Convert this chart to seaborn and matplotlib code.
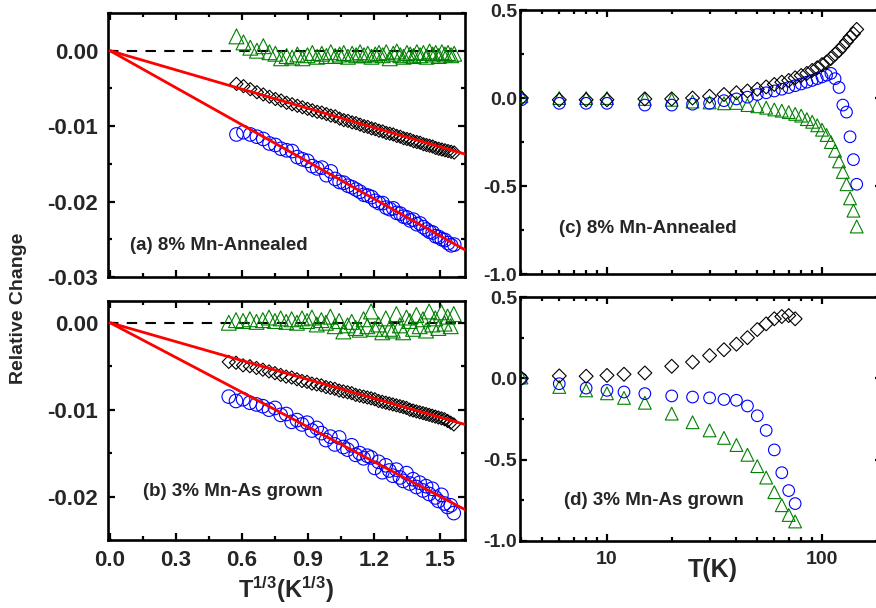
import seaborn as sns
import matplotlib.pyplot as plt
from matplotlib.ticker import MultipleLocator, LogLocator, NullFormatter, FormatStrFormatter

# ---- datos panel (a): 8% Mn-Annealed, eje T^(1/3)
xa = [0.575, 0.607, 0.638, 0.668, 0.697, 0.725, 0.752, 0.778, 0.803, 0.828, 0.852, 0.875,
      0.898, 0.920, 0.942, 0.963, 0.984, 1.004, 1.024, 1.044, 1.063, 1.082, 1.101, 1.119,
      1.137, 1.155, 1.172, 1.189, 1.206, 1.223, 1.240, 1.256, 1.272, 1.288, 1.304, 1.320,
      1.335, 1.350, 1.365, 1.380, 1.395, 1.410, 1.425, 1.439, 1.453, 1.467, 1.481, 1.495,
      1.509, 1.523, 1.537, 1.551, 1.565]
ya_diamante = [-0.0044, -0.0047, -0.0051, -0.0055, -0.0058, -0.0061, -0.0064, -0.0066, -0.0069,
               -0.0071, -0.0073, -0.0075, -0.0077, -0.0079, -0.0081, -0.0082, -0.0084, -0.0086,
               -0.0087, -0.0090, -0.0092, -0.0093, -0.0095, -0.0096, -0.0098, -0.0100, -0.0101,
               -0.0103, -0.0104, -0.0106, -0.0107, -0.0109, -0.0110, -0.0111, -0.0113, -0.0114,
               -0.0116, -0.0117, -0.0118, -0.0120, -0.0121, -0.0122, -0.0124, -0.0125, -0.0126,
               -0.0127, -0.0129, -0.0130, -0.0131, -0.0132, -0.0133, -0.0134, -0.0135]
ya_circulo = [-0.0111, -0.0108, -0.0111, -0.0114, -0.0117, -0.0123, -0.0125, -0.0130, -0.0132,
              -0.0133, -0.0141, -0.0144, -0.0146, -0.0153, -0.0156, -0.0155, -0.0165, -0.0160,
              -0.0170, -0.0174, -0.0175, -0.0179, -0.0181, -0.0184, -0.0187, -0.0191, -0.0192,
              -0.0194, -0.0199, -0.0202, -0.0202, -0.0208, -0.0210, -0.0209, -0.0215, -0.0216,
              -0.0220, -0.0221, -0.0225, -0.0224, -0.0230, -0.0229, -0.0234, -0.0237, -0.0240,
              -0.0241, -0.0246, -0.0247, -0.0250, -0.0251, -0.0255, -0.0258, -0.0257]
ya_triangulo = [0.0019, 0.0011, 0.0004, 0.0000, 0.0006, -0.0002, -0.0004, -0.0010, -0.0007,
                -0.0009, -0.0005, -0.0010, -0.0006, -0.0003, -0.0008, -0.0004, -0.0007, -0.0002,
                -0.0007, -0.0005, -0.0003, -0.0008, -0.0004, -0.0006, -0.0002, -0.0006, -0.0004,
                -0.0008, -0.0005, -0.0003, -0.0006, -0.0002, -0.0010, -0.0004, -0.0001, -0.0006,
                -0.0008, -0.0003, -0.0005, -0.0007, -0.0002, -0.0006, -0.0003, -0.0008, -0.0001,
                -0.0005, -0.0003, -0.0007, -0.0002, -0.0005, -0.0003, -0.0006, -0.0004]

# ---- datos panel (b): 3% Mn-As grown
xb = [0.540, 0.573, 0.605, 0.636, 0.666, 0.695, 0.723, 0.750, 0.776, 0.801, 0.826, 0.850,
      0.873, 0.896, 0.918, 0.940, 0.961, 0.982, 1.002, 1.022, 1.042, 1.061, 1.080, 1.099,
      1.117, 1.135, 1.153, 1.170, 1.187, 1.204, 1.221, 1.238, 1.254, 1.270, 1.286, 1.302,
      1.318, 1.333, 1.348, 1.363, 1.378, 1.393, 1.408, 1.423, 1.437, 1.451, 1.465, 1.479,
      1.493, 1.507, 1.521, 1.535, 1.549, 1.563]
yb_diamante = [-0.0045, -0.0046, -0.0049, -0.0050, -0.0052, -0.0054, -0.0056, -0.0058, -0.0060,
               -0.0062, -0.0063, -0.0065, -0.0067, -0.0068, -0.0070, -0.0071, -0.0072, -0.0074,
               -0.0075, -0.0076, -0.0078, -0.0079, -0.0080, -0.0081, -0.0083, -0.0084, -0.0085,
               -0.0086, -0.0087, -0.0088, -0.0090, -0.0091, -0.0092, -0.0093, -0.0094, -0.0095,
               -0.0096, -0.0097, -0.0098, -0.0100, -0.0101, -0.0102, -0.0103, -0.0104, -0.0105,
               -0.0106, -0.0107, -0.0108, -0.0109, -0.0110, -0.0111, -0.0113, -0.0115, -0.0117]
yb_circulo = [-0.0085, -0.0090, -0.0088, -0.0092, -0.0094, -0.0096, -0.0100, -0.0098, -0.0106,
              -0.0105, -0.0114, -0.0112, -0.0117, -0.0115, -0.0124, -0.0121, -0.0127, -0.0135,
              -0.0131, -0.0140, -0.0132, -0.0143, -0.0146, -0.0141, -0.0152, -0.0150, -0.0156,
              -0.0153, -0.0155, -0.0167, -0.0160, -0.0172, -0.0164, -0.0170, -0.0176, -0.0169,
              -0.0178, -0.0182, -0.0173, -0.0185, -0.0180, -0.0189, -0.0184, -0.0193, -0.0188,
              -0.0197, -0.0191, -0.0201, -0.0205, -0.0198, -0.0208, -0.0212, -0.0210, -0.0219]
yb_triangulo = [0.0000, 0.0003, 0.0002, 0.0004, 0.0001, 0.0003, 0.0006, 0.0002, 0.0005, 0.0001,
                0.0004, 0.0000, 0.0005, 0.0002, 0.0006, -0.0002, 0.0003, 0.0000, 0.0007, -0.0004,
                0.0002, -0.0010, -0.0003, 0.0001, -0.0006, -0.0008, 0.0004, -0.0004, 0.0013,
                -0.0007, -0.0002, -0.0011, 0.0005, -0.0007, -0.0009, 0.0010, -0.0003, -0.0011,
                0.0006, 0.0002, -0.0007, 0.0009, -0.0004, 0.0004, -0.0009, 0.0013, -0.0002,
                0.0005, -0.0006, 0.0012, -0.0001, 0.0007, -0.0004, 0.0010]

# ---- rectas de ajuste (extremos)
ajuste_x = [0.0, 1.614]
ajuste_a_diamante = [0.0, -0.0137]
ajuste_a_circulo = [0.0, -0.0264]
ajuste_b_diamante = [0.0, -0.0117]
ajuste_b_circulo = [0.0, -0.0215]

# ---- datos panel (c): T en K
tc = [4, 6, 8, 10, 15, 20, 25, 30, 35, 40, 45, 50, 55, 60, 65, 70, 75, 80, 85, 90, 95,
      100, 105, 110, 115, 120, 125, 130, 135, 140, 145]
yc_diamante = [0.0, -0.01, -0.01, -0.01, -0.005, -0.005, 0.0, 0.01, 0.02, 0.03, 0.04, 0.05,
               0.063, 0.077, 0.09, 0.10, 0.115, 0.128, 0.14, 0.157, 0.172, 0.19, 0.205, 0.225,
               0.25, 0.27, 0.295, 0.32, 0.345, 0.365, 0.39]
yc_circulo = [-0.01, -0.03, -0.03, -0.03, -0.04, -0.04, -0.035, -0.03, -0.015, -0.005, 0.005,
              0.02, 0.03, 0.04, 0.05, 0.06, 0.07, 0.08, 0.09, 0.10, 0.11, 0.12, 0.13, 0.14,
              0.11, 0.06, -0.04, -0.08, -0.22, -0.35, -0.49]
yc_triangulo = [0.01, 0.0, 0.0, 0.0, -0.005, -0.01, -0.02, -0.025, -0.03, -0.028, -0.04, -0.047,
                -0.055, -0.065, -0.072, -0.08, -0.09, -0.10, -0.12, -0.135, -0.155, -0.18, -0.21,
                -0.25, -0.30, -0.36, -0.42, -0.49, -0.57, -0.64, -0.73]

# ---- datos panel (d)
td = [4, 6, 8, 10, 12, 15, 20, 25, 30, 35, 40, 45, 50, 55, 60, 65, 70, 75]
yd_diamante = [0.0, 0.015, 0.013, 0.018, 0.025, 0.033, 0.074, 0.10, 0.14, 0.176, 0.21, 0.25,
               0.30, 0.335, 0.366, 0.38, 0.386, 0.366]
yd_circulo = [-0.002, -0.033, -0.06, -0.074, -0.084, -0.094, -0.108, -0.115, -0.12, -0.13,
              -0.135, -0.17, -0.23, -0.32, -0.44, -0.58, -0.69, -0.77]
yd_triangulo = [0.005, -0.053, -0.074, -0.092, -0.12, -0.15, -0.217, -0.27, -0.32, -0.366,
                -0.41, -0.47, -0.54, -0.61, -0.70, -0.78, -0.84, -0.88]

sns.set_style("ticks")
plt.rcParams['font.family'] = ['Liberation Sans', 'DejaVu Sans']
plt.rcParams['font.weight'] = 'bold'
plt.rcParams['axes.unicode_minus'] = False
plt.rcParams['mathtext.fontset'] = 'custom'
plt.rcParams['mathtext.bf'] = 'Liberation Sans:bold'
plt.rcParams['mathtext.rm'] = 'Liberation Sans:bold'
plt.rcParams['mathtext.default'] = 'bf'

AZUL = '#0000ff'
VERDE = '#008000'

fig = plt.figure(figsize=(8.76, 6.08), dpi=100)
ax_a = fig.add_axes([0.1233, 0.5444, 0.4075, 0.4342])
ax_b = fig.add_axes([0.1233, 0.1118, 0.4075, 0.3931])
ax_c = fig.add_axes([0.5936, 0.5493, 0.4132, 0.4342])
ax_d = fig.add_axes([0.5936, 0.1102, 0.4132, 0.4013])


def estilo(ax, tam_letra):
    for sp in ax.spines.values():
        sp.set_linewidth(1.9)
        sp.set_color('black')
    ax.tick_params(which='both', direction='in', top=True, right=True, width=1.6,
                   labelsize=tam_letra, color='black')
    ax.tick_params(which='major', length=5)
    ax.tick_params(which='minor', length=3)
    for lab in ax.get_xticklabels() + ax.get_yticklabels():
        lab.set_fontweight('bold')


def puntos(ax, x, y, marca, color, tam):
    sns.scatterplot(x=x, y=y, ax=ax, marker=marca, s=tam, facecolors='none',
                    edgecolor=color, linewidth=0.8, zorder=3)


# paneles izquierdos
for ax, x, yd, yc, yt, ad, ac in [
        (ax_a, xa, ya_diamante, ya_circulo, ya_triangulo, ajuste_a_diamante, ajuste_a_circulo),
        (ax_b, xb, yb_diamante, yb_circulo, yb_triangulo, ajuste_b_diamante, ajuste_b_circulo)]:
    ax.axhline(0, color='black', ls=(0, (5, 4)), lw=1.5, zorder=1)
    puntos(ax, x, yt, '^', VERDE, 115)
    puntos(ax, x, yd, 'D', 'black', 45)
    puntos(ax, x, yc, 'o', AZUL, 95)
    sns.lineplot(x=ajuste_x, y=ad, ax=ax, color='red', lw=2, zorder=4)
    sns.lineplot(x=ajuste_x, y=ac, ax=ax, color='red', lw=2, zorder=4)
    ax.set_xlim(-0.009, 1.614)
    ax.xaxis.set_major_locator(MultipleLocator(0.3))
    ax.xaxis.set_minor_locator(MultipleLocator(0.15))
    ax.yaxis.set_major_locator(MultipleLocator(0.01))
    ax.yaxis.set_minor_locator(MultipleLocator(0.005))
    ax.yaxis.set_major_formatter(FormatStrFormatter('%.2f'))
    ax.xaxis.set_major_formatter(FormatStrFormatter('%.1f'))
    ax.set_xlabel('')
    ax.set_ylabel('')
    estilo(ax, 16)
    ax.tick_params(axis='y', pad=7)
    ax.tick_params(axis='x', pad=7)

ax_a.set_ylim(-0.03, 0.005)
ax_b.set_ylim(-0.025, 0.0025)
ax_a.tick_params(axis='x', labelbottom=False)

# paneles derechos
for ax, t, yd, yc, yt in [(ax_c, tc, yc_diamante, yc_circulo, yc_triangulo),
                          (ax_d, td, yd_diamante, yd_circulo, yd_triangulo)]:
    puntos(ax, t, yt, '^', VERDE, 85)
    puntos(ax, t, yc, 'o', AZUL, 70)
    puntos(ax, t, yd, 'D', 'black', 50)
    ax.set_xscale('log')
    ax.set_xlim(3.94, 190)
    ax.set_ylim(-1.0, 0.5)
    ax.yaxis.set_major_locator(MultipleLocator(0.5))
    ax.yaxis.set_minor_locator(MultipleLocator(0.25))
    ax.yaxis.set_major_formatter(FormatStrFormatter('%.1f'))
    ax.xaxis.set_major_locator(LogLocator(base=10))
    ax.xaxis.set_minor_locator(LogLocator(base=10, subs=(2, 3, 4, 5, 6, 7, 8, 9)))
    ax.xaxis.set_minor_formatter(NullFormatter())
    ax.set_xticks([10, 100])
    ax.set_xticklabels(['10', '100'])
    ax.set_xlabel('')
    ax.set_ylabel('')
    estilo(ax, 14)
    ax.tick_params(axis='y', pad=2)
    ax.tick_params(axis='x', pad=7)

ax_c.tick_params(axis='x', labelbottom=False)

# rotulos de paneles
ax_a.text(0.062, 0.121, '(a) 8% Mn-Annealed', transform=ax_a.transAxes, fontsize=13.5,
          fontweight='bold', va='center')
ax_b.text(0.098, 0.205, '(b) 3% Mn-As grown', transform=ax_b.transAxes, fontsize=13.5,
          fontweight='bold', va='center')
ax_c.text(0.108, 0.174, '(c) 8% Mn-Annealed', transform=ax_c.transAxes, fontsize=13.5,
          fontweight='bold', va='center')
ax_d.text(0.1215, 0.168, '(d) 3% Mn-As grown', transform=ax_d.transAxes, fontsize=13.5,
          fontweight='bold', va='center')

# titulos de ejes
fig.text(0.021, 0.493, 'Relative Change', rotation=90, ha='center', va='center',
         fontsize=14, fontweight='bold')
fig.text(0.3265, 0.03, r'T$^{1/3}$(K$^{1/3}$)', ha='center', va='center',
         fontsize=17, fontweight='bold')
fig.text(0.814, 0.0625, 'T(K)', ha='center', va='center', fontsize=18, fontweight='bold')

fig.savefig('out.png', dpi=100)
